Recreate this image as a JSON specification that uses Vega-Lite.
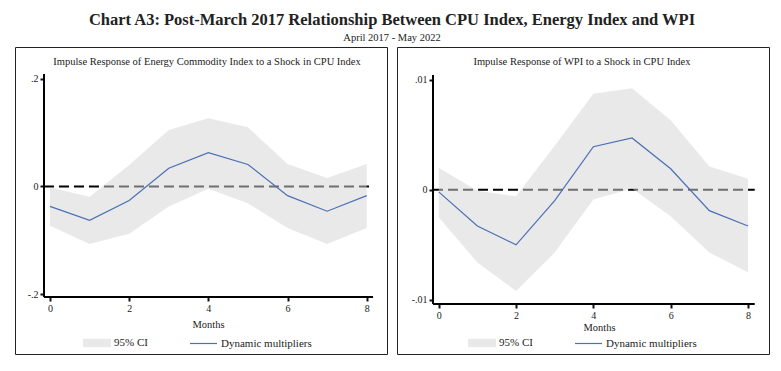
{
  "$schema": "https://vega.github.io/schema/vega-lite/v6.json",
  "background": "white",
  "padding": {"left": 14, "top": 11, "right": 0, "bottom": 0},
  "title": {
    "text": "Chart A3: Post-March 2017 Relationship Between CPU Index, Energy Index and WPI",
    "subtitle": "April 2017 - May 2022",
    "anchor": "middle",
    "font": "Liberation Serif",
    "fontSize": 16.5,
    "fontWeight": "bold",
    "color": "#222",
    "subtitleFont": "Liberation Serif",
    "subtitleFontSize": 10.5,
    "subtitleColor": "#222",
    "subtitlePadding": 5,
    "offset": 3
  },
  "datasets": {
    "energy": [
      {"month": 0, "est": -0.037, "lo": -0.073, "hi": -0.002},
      {"month": 1, "est": -0.063, "lo": -0.107, "hi": -0.019},
      {"month": 2, "est": -0.026, "lo": -0.088, "hi": 0.040},
      {"month": 3, "est": 0.034, "lo": -0.037, "hi": 0.105},
      {"month": 4, "est": 0.063, "lo": -0.004, "hi": 0.127},
      {"month": 5, "est": 0.041, "lo": -0.031, "hi": 0.110},
      {"month": 6, "est": -0.017, "lo": -0.077, "hi": 0.042},
      {"month": 7, "est": -0.046, "lo": -0.107, "hi": 0.016},
      {"month": 8, "est": -0.017, "lo": -0.077, "hi": 0.042}
    ],
    "wpi": [
      {"month": 0, "est": -0.0002, "lo": -0.0025, "hi": 0.0020},
      {"month": 1, "est": -0.0033, "lo": -0.0066, "hi": -0.0001},
      {"month": 2, "est": -0.0050, "lo": -0.0092, "hi": -0.0006},
      {"month": 3, "est": -0.0010, "lo": -0.0057, "hi": 0.0040},
      {"month": 4, "est": 0.0039, "lo": -0.0009, "hi": 0.0087},
      {"month": 5, "est": 0.0047, "lo": 0.0001, "hi": 0.0092},
      {"month": 6, "est": 0.0019, "lo": -0.0024, "hi": 0.0063},
      {"month": 7, "est": -0.0019, "lo": -0.0057, "hi": 0.0021},
      {"month": 8, "est": -0.0033, "lo": -0.0075, "hi": 0.0010}
    ]
  },
  "spacing": 8,
  "resolve": {
    "scale": {"fill": "independent", "stroke": "independent", "x": "independent", "y": "independent"},
    "legend": {"fill": "independent", "stroke": "independent"}
  },
  "hconcat": [
    {
      "width": 372,
      "height": 307,
      "title": {
        "text": "Impulse Response of Energy Commodity Index to a Shock in CPU Index",
        "font": "Liberation Serif",
        "fontSize": 10.5,
        "fontWeight": "normal",
        "color": "#222",
        "offset": -20,
        "anchor": "middle",
        "dx": 6
      },
      "layer": [
        {
          "data": {"values": [{}]},
          "mark": {"type": "rule", "color": "black", "strokeDash": [10, 5], "strokeWidth": 2},
          "encoding": {
            "x": {
              "datum": -0.152,
              "type": "quantitative",
              "scale": {"domain": [-0.884, 8.512], "nice": false, "zero": false},
              "axis": {
                "values": [0, 2, 4, 6, 8],
                "format": "d",
                "offset": -57,
                "title": "Months",
                "titlePadding": 6,
                "titleX": 193,
                "labelFlush": false
              }
            },
            "x2": {"datum": 8.16},
            "y": {
              "datum": 0,
              "type": "quantitative",
              "scale": {"domain": [-0.3116, 0.2595], "nice": false, "zero": false},
              "axis": {
                "values": [-0.2, 0, 0.2],
                "offset": -29,
                "title": null,
                "labelExpr": "datum.value > 0.1 ? '.2' : datum.value < -0.1 ? '-.2' : '0'"
              }
            }
          }
        },
        {
          "data": {"name": "energy"},
          "mark": {"type": "area", "opacity": 0.52},
          "encoding": {
            "x": {"field": "month", "type": "quantitative"},
            "y": {"field": "lo", "type": "quantitative"},
            "y2": {"field": "hi"},
            "fill": {
              "datum": "95% CI",
              "type": "nominal",
              "scale": {"range": ["#d4d4d4"]},
              "legend": {
                "orient": "none", "legendX": 68, "legendY": 282, "title": null,
                "symbolType": "M-1,-0.3H1V0.3H-1Z", "symbolSize": 784, "symbolStrokeWidth": 0,
                "labelFont": "Liberation Serif", "labelFontSize": 11, "labelColor": "#222",
                "labelOffset": 3, "padding": 0
              }
            }
          }
        },
        {
          "data": {"name": "energy"},
          "mark": {"type": "line", "strokeWidth": 1.2},
          "encoding": {
            "x": {"field": "month", "type": "quantitative"},
            "y": {"field": "est", "type": "quantitative"},
            "stroke": {
              "datum": "Dynamic multipliers",
              "type": "nominal",
              "scale": {"range": ["#4a6fb5"]},
              "legend": {
                "orient": "none", "legendX": 174, "legendY": 282, "title": null,
                "symbolType": "stroke", "symbolSize": 729, "symbolStrokeWidth": 1.2,
                "labelFont": "Liberation Serif", "labelFontSize": 11, "labelColor": "#222",
                "labelOffset": 3, "padding": 0
              }
            }
          }
        },
        {
          "data": {"values": [{}]},
          "mark": {"type": "rule", "color": "black", "strokeWidth": 2},
          "encoding": {
            "x": {"datum": -0.152, "type": "quantitative"},
            "y": {"datum": -0.2056, "type": "quantitative"},
            "y2": {"datum": 0.2093}
          }
        },
        {
          "data": {"values": [{}]},
          "mark": {"type": "rule", "color": "black", "strokeWidth": 2},
          "encoding": {
            "x": {"datum": -0.152, "type": "quantitative"},
            "x2": {"datum": 8.16},
            "y": {"datum": -0.2056, "type": "quantitative"}
          }
        }
      ]
    },
    {
      "width": 372,
      "height": 307,
      "title": {
        "text": "Impulse Response of WPI to a Shock in CPU Index",
        "font": "Liberation Serif",
        "fontSize": 10.5,
        "fontWeight": "normal",
        "color": "#222",
        "offset": -20,
        "anchor": "middle",
        "dx": -1
      },
      "layer": [
        {
          "data": {"values": [{}]},
          "mark": {"type": "rule", "color": "black", "strokeDash": [10, 5], "strokeWidth": 2},
          "encoding": {
            "x": {
              "datum": -0.148,
              "type": "quantitative",
              "scale": {"domain": [-1.079, 8.543], "nice": false, "zero": false},
              "axis": {
                "values": [0, 2, 4, 6, 8],
                "format": "d",
                "offset": -50,
                "title": "Months",
                "titlePadding": 2,
                "titleX": 202,
                "labelFlush": false
              }
            },
            "x2": {"datum": 8.174},
            "y": {
              "datum": 0,
              "type": "quantitative",
              "scale": {"domain": [-0.014916, 0.012955], "nice": false, "zero": false},
              "axis": {
                "values": [-0.01, 0, 0.01],
                "offset": -36,
                "title": null,
                "labelExpr": "datum.value > 0.005 ? '.01' : datum.value < -0.005 ? '-.01' : '0'"
              }
            }
          }
        },
        {
          "data": {"name": "wpi"},
          "mark": {"type": "area", "opacity": 0.52},
          "encoding": {
            "x": {"field": "month", "type": "quantitative"},
            "y": {"field": "lo", "type": "quantitative"},
            "y2": {"field": "hi"},
            "fill": {
              "datum": "95% CI",
              "type": "nominal",
              "scale": {"range": ["#d4d4d4"]},
              "legend": {
                "orient": "none", "legendX": 71, "legendY": 282, "title": null,
                "symbolType": "M-1,-0.3H1V0.3H-1Z", "symbolSize": 784, "symbolStrokeWidth": 0,
                "labelFont": "Liberation Serif", "labelFontSize": 11, "labelColor": "#222",
                "labelOffset": 3, "padding": 0
              }
            }
          }
        },
        {
          "data": {"name": "wpi"},
          "mark": {"type": "line", "strokeWidth": 1.2},
          "encoding": {
            "x": {"field": "month", "type": "quantitative"},
            "y": {"field": "est", "type": "quantitative"},
            "stroke": {
              "datum": "Dynamic multipliers",
              "type": "nominal",
              "scale": {"range": ["#4a6fb5"]},
              "legend": {
                "orient": "none", "legendX": 177, "legendY": 282, "title": null,
                "symbolType": "stroke", "symbolSize": 729, "symbolStrokeWidth": 1.2,
                "labelFont": "Liberation Serif", "labelFontSize": 11, "labelColor": "#222",
                "labelOffset": 3, "padding": 0
              }
            }
          }
        },
        {
          "data": {"values": [{}]},
          "mark": {"type": "rule", "color": "black", "strokeWidth": 2},
          "encoding": {
            "x": {"datum": -0.148, "type": "quantitative"},
            "y": {"datum": -0.010377, "type": "quantitative"},
            "y2": {"datum": 0.010413}
          }
        },
        {
          "data": {"values": [{}]},
          "mark": {"type": "rule", "color": "black", "strokeWidth": 2},
          "encoding": {
            "x": {"datum": -0.148, "type": "quantitative"},
            "x2": {"datum": 8.174},
            "y": {"datum": -0.010377, "type": "quantitative"}
          }
        }
      ]
    }
  ],
  "config": {
    "view": {"stroke": "#222", "strokeWidth": 1},
    "axis": {
      "grid": false,
      "domain": false,
      "tickColor": "#111",
      "tickWidth": 2,
      "tickSize": 4,
      "labelFont": "Liberation Serif",
      "labelFontSize": 10,
      "labelColor": "#222",
      "labelPadding": 2,
      "titleFont": "Liberation Serif",
      "titleFontSize": 10.5,
      "titleFontWeight": "normal",
      "titleColor": "#222"
    }
  }
}
